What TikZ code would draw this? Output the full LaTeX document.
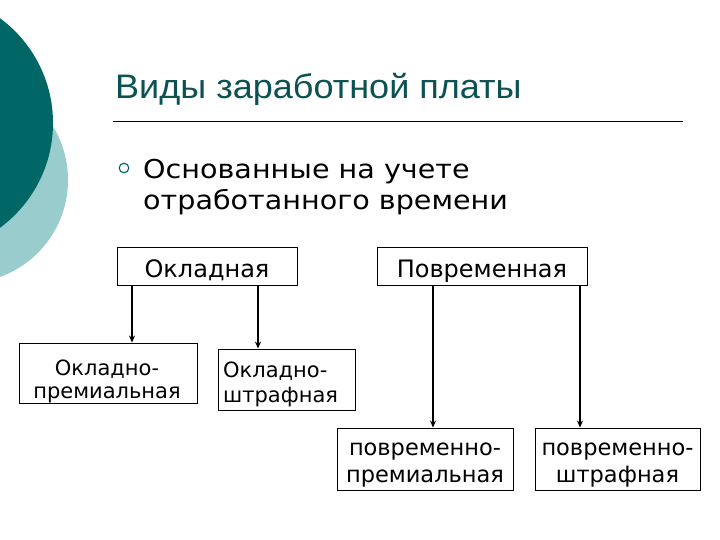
\documentclass[tikz,border=0pt]{standalone}
\usepackage{fontspec}
\setmainfont{DejaVu Sans}
\newfontfamily\titlefont[FakeStretch=1.06]{Liberation Sans}
\newfontfamily\bulfont[FakeStretch=1.1]{DejaVu Sans}
\usetikzlibrary{arrows.meta}
\definecolor{darkteal}{RGB}{0,102,102}
\definecolor{lightteal}{RGB}{153,204,204}
\definecolor{titleteal}{RGB}{12,82,82}
\tikzset{
  box/.style={draw=black, line width=0.9pt, fill=white, inner sep=0pt},
  txt/.style={inner sep=0pt, anchor=base},
  arr/.style={line width=1.6pt, -{Stealth[length=7pt,width=6pt]}}
}
\begin{document}
\begin{tikzpicture}[x=1pt,y=-1pt]
\useasboundingbox (0,0) rectangle (720,540);
\fill[white] (0,0) rectangle (720,540);
% decorative circles
\fill[lightteal] (-35,180) circle (103);
\fill[darkteal] (-77,123) circle (130);
% title
\node[anchor=base west, inner sep=0pt, text=titleteal, font=\titlefont\fontsize{34}{38}\selectfont] (title) at (115,98.5) {Виды заработной платы};
\draw[line width=0.8pt] (113,121) -- (683,121);
% bullet
\draw[darkteal, line width=1.1pt] (124,168) circle (4.8);
\node[anchor=base west, inner sep=0pt, align=left, font=\bulfont\fontsize{26}{32}\selectfont] (bul) at (143,210) {Основанные на учете\\отработанного времени};
% boxes
\node[box, minimum width=180, minimum height=38] (okl) at (207,266) {};
\node[box, minimum width=210, minimum height=38] (pov) at (482,266) {};
\node[box, minimum width=178, minimum height=60] (opr) at (108,373) {};
\node[box, minimum width=137, minimum height=61] (osh) at (286.5,379.5) {};
\node[box, minimum width=176, minimum height=62] (ppr) at (425,459) {};
\node[box, minimum width=165, minimum height=62] (psh) at (617.5,459) {};
% box texts
\node[txt, font=\fontsize{24}{27}\selectfont] (toklt) at (207,277) {Окладная};
\node[txt, font=\fontsize{24}{27}\selectfont] (tpovt) at (482,277) {Повременная};
\node[txt, align=center, font=\fontsize{21}{23}\selectfont] (toprt) at (107,398) {Окладно-\\премиальная};
\node[txt, anchor=base west, align=left, font=\fontsize{21}{25}\selectfont] (tosht) at (223,402) {Окладно-\\штрафная};
\node[txt, align=center, font=\fontsize{22.5}{27}\selectfont] (tpprt) at (425,482) {повременно-\\премиальная};
\node[txt, align=center, font=\fontsize{22.5}{27}\selectfont] (tpsht) at (617.5,482) {повременно-\\штрафная};
% arrow columns
\coordinate (c1) at (132,0);
\coordinate (c2) at (258,0);
\coordinate (c3) at (433,0);
\coordinate (c4) at (580,0);
\draw[arr] (okl.south -| c1) -- (c1 |- opr.north);
\draw[arr] (okl.south -| c2) -- (c2 |- osh.north);
\draw[arr] (pov.south -| c3) -- (c3 |- ppr.north);
\draw[arr] (pov.south -| c4) -- (c4 |- psh.north);
\end{tikzpicture}
\end{document}
